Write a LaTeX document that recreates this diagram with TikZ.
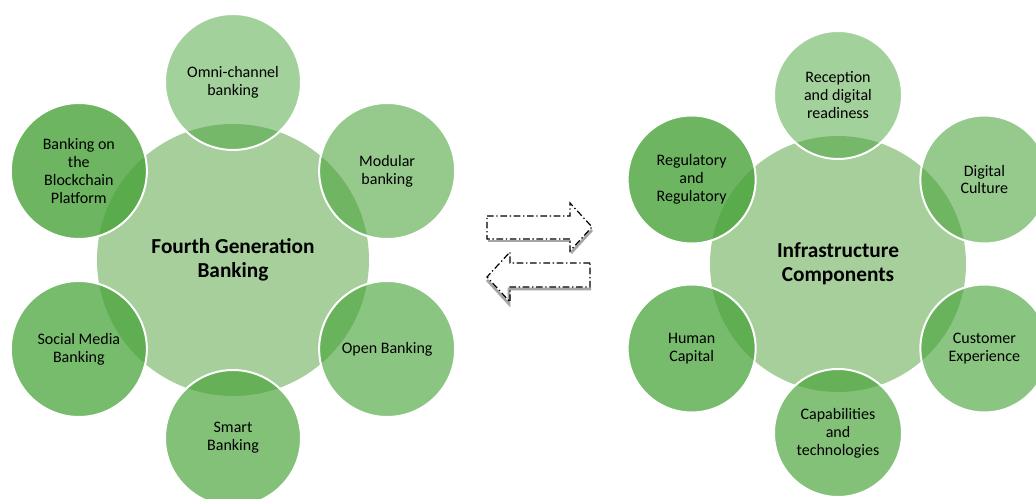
\documentclass[tikz,border=0pt]{standalone}
\usepackage{fontspec}
\setmainfont{Carlito}
\usetikzlibrary{calc}
\definecolor{hubgreen}{RGB}{166,207,155}
\definecolor{leafgreen}{RGB}{72,163,57}
\definecolor{shadowgray}{RGB}{165,165,165}
\tikzset{hub/.style={circle, fill=hubgreen, inner sep=0pt, align=center, font=\fontsize{16}{18}\selectfont\bfseries},
leaf/.style={circle, fill=leafgreen, fill opacity=#1, text opacity=1, draw=white, line width=1.5pt, inner sep=0pt, align=center, font=\fontsize{12}{13.4}\selectfont},
leaf/.default={0.6},
flowline/.style={black, line width=0.9pt, dash pattern=on 5pt off 2pt on 1pt off 2pt},
flowshade/.style={shadowgray, line width=2pt}}

\begin{document}
\begin{tikzpicture}[x=0.75pt,y=0.75pt]
 \useasboundingbox (0,0) rectangle (1036,499);

 % left cluster
 \begin{scope}[leaf/.append style={minimum size=102pt}]
 \node[hub, minimum size=204pt] (fgb) at (233,239) {Fourth Generation\\Banking};
 \node[leaf=0.50] (omni) at ($(fgb)+(90:178)$) {Omni-channel\\banking};
 \node[leaf=0.58] (modular) at ($(fgb)+(30:178)$) {Modular\\banking};
 \node[leaf=0.63] (open) at ($(fgb)+(-30:178)$) {Open Banking};
 \node[leaf=0.68] (smart) at ($(fgb)+(-90:178)$) {Smart\\Banking};
 \node[leaf=0.74] (social) at ($(fgb)+(210:178)$) {Social Media\\Banking};
 \node[leaf=0.80] (chain) at ($(fgb)+(150:178)$) {Banking on\\the\\Blockchain\\Platform};
 \end{scope}

 % right cluster
 \begin{scope}[leaf/.append style={minimum size=96pt}]
 \node[hub, minimum size=192pt] (infra) at (838,235) {Infrastructure\\Components};
 \node[leaf=0.50] (recep) at ($(infra)+(90:169)$) {Reception\\and digital\\readiness};
 \node[leaf=0.58] (culture) at ($(infra)+(30:169)$) {Digital\\Culture};
 \node[leaf=0.63] (cust) at ($(infra)+(-30:169)$) {Customer\\Experience};
 \node[leaf=0.68] (capab) at ($(infra)+(-90:169)$) {Capabilities\\and\\technologies};
 \node[leaf=0.74] (human) at ($(infra)+(210:169)$) {Human\\Capital};
 \node[leaf=0.80] (regul) at ($(infra)+(150:169)$) {Regulatory\\and\\Regulatory};
 \end{scope}

 % exchange arrows
 \draw[flowshade] (488,258) -- (571,258);
 \draw[flowshade] (571,246) -- (592,269);
 \draw[flowshade] (487,219) -- (509,195) -- (509,210) -- (591,210);
 \draw[flowline] (487,283) -- (570,283) -- (570,296) -- (592,272) -- (570,248) -- (570,260) -- (487,260) -- cycle;
 \draw[flowline] (590,236) -- (510,236) -- (510,247) -- (487,222) -- (510,197) -- (510,212) -- (590,212) -- cycle;

\end{tikzpicture}
\end{document}
